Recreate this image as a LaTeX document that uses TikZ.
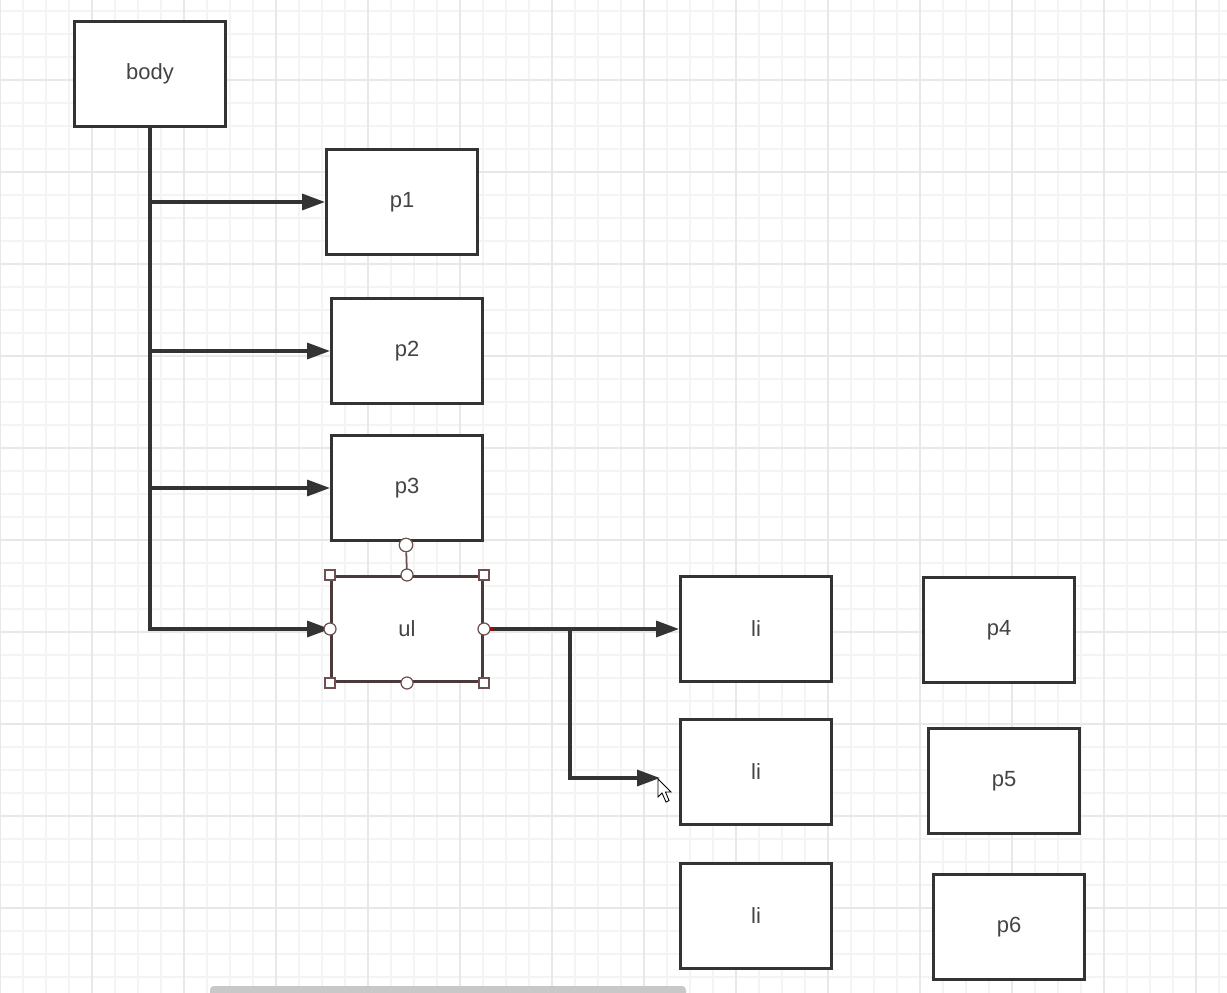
\documentclass[tikz,border=0pt]{standalone}
\usepackage{fontspec}
\setmainfont{Liberation Sans}
\usetikzlibrary{arrows.meta}
\definecolor{linegray}{HTML}{333333}
\definecolor{textgray}{HTML}{444444}
\definecolor{ulborder}{HTML}{4A3A3A}
\definecolor{handle}{HTML}{6E5050}
\definecolor{minorgrid}{HTML}{F4F4F4}
\definecolor{majorgrid}{HTML}{E8E8E8}
\definecolor{scrollgray}{HTML}{C8C8C8}

\begin{document}
\begin{tikzpicture}[x=0.02cm, y=-0.02cm,
  element/.style={rectangle, draw=linegray, line width=1.7pt, fill=white, text=textgray, minimum width=3.02cm, minimum height=2.1cm, font=\fontsize{12.5}{14}\selectfont},
  arrow/.style={draw=linegray, line width=1.9pt, -{Triangle[length=0.46cm, width=0.32cm]}},
  sqhandle/.style={rectangle, draw=handle, fill=white, line width=0.7pt, minimum size=0.2cm, inner sep=0pt},
  cirhandle/.style={circle, draw=handle, fill=white, line width=0.7pt, minimum size=0.24cm, inner sep=0pt}
]

\useasboundingbox (0,0) rectangle (1227,993);
\fill[white] (0,0) rectangle (1227,993);

\foreach \gx in {0,23,...,1227} \draw[minorgrid, line width=0.6pt] (\gx,0) -- (\gx,993);
\foreach \gy in {11,34,...,993} \draw[minorgrid, line width=0.6pt] (0,\gy) -- (1227,\gy);
\foreach \gx in {0,92,...,1227} \draw[majorgrid, line width=0.7pt] (\gx,0) -- (\gx,993);
\foreach \gy in {80,172,...,993} \draw[majorgrid, line width=0.7pt] (0,\gy) -- (1227,\gy);

\node (body) [element] at (150,74) {body};
\node (p1) [element] at (402,202) {p1};
\node (p2) [element] at (407,351) {p2};
\node (p3) [element] at (407,488) {p3};
\node (ul) [element, draw=ulborder] at (407,629) {ul};
\node (li1) [element] at (756,629) {li};
\node (li2) [element] at (756,772) {li};
\node (li3) [element] at (756,916) {li};
\node (p4) [element] at (999,630) {p4};
\node (p5) [element] at (1004,781) {p5};
\node (p6) [element] at (1009,927) {p6};

\coordinate (fork) at (570,629);
\coordinate (li2tip) at (660,778);

\draw [arrow] (body.south) |- (p1.west);
\draw [arrow] (body.south) |- (p2.west);
\draw [arrow] (body.south) |- (p3.west);
\draw [arrow] (body.south) |- (ul.west);
\draw [arrow] (ul.east) -- (li1.west);
\draw [arrow] (fork) |- (li2tip);

\node (rot) [cirhandle, minimum size=0.27cm] at (406,545) {};
\draw [handle, line width=1pt] (ul.north) -- (rot);
\foreach \c/\n in {north west/nw, north east/ne, south west/sw, south east/se}
  \node (sq\n) [sqhandle] at (ul.\c) {};
\foreach \c/\n in {north/n, south/s, west/w, east/e}
  \node (ci\n) [cirhandle] at (ul.\c) {};
\fill[red!70!black] (492,629) circle (2);

\draw[black, fill=white, line width=0.5pt] (658,779) -- (658,797) -- (662,793) -- (666,802) -- (669,800.5) -- (665.5,792) -- (671,792) -- cycle;

\fill[scrollgray, rounded corners=0.08cm] (210,986) rectangle (686,1002);

\end{tikzpicture}
\end{document}
